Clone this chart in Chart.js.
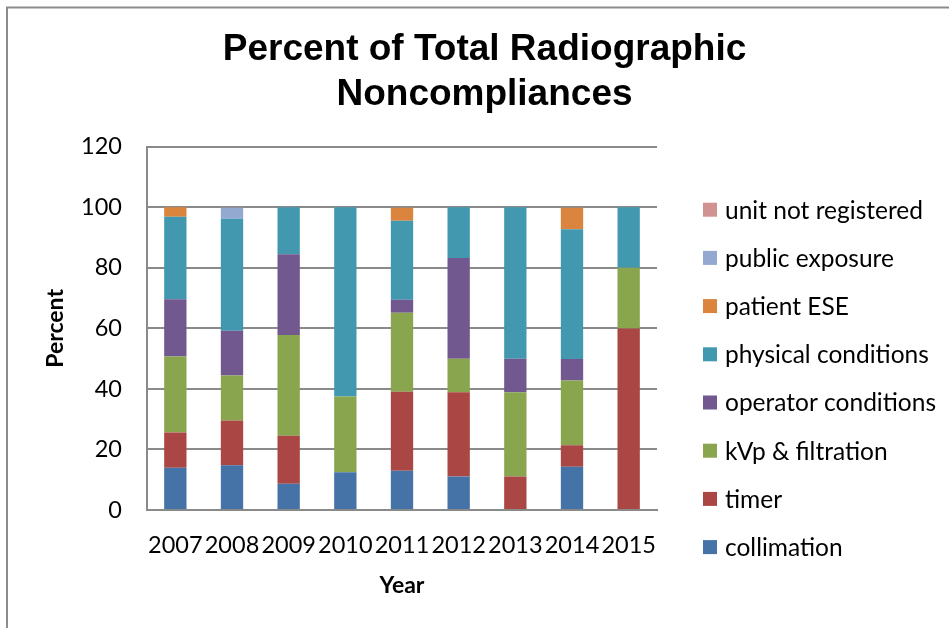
<!DOCTYPE html>
<html>
<head>
<meta charset="utf-8">
<script src="https://cdn.jsdelivr.net/npm/chart.js@4/dist/chart.umd.min.js"></script>
<style>
  html, body { margin: 0; padding: 0; background: #ffffff; }
  canvas { display: block; }
</style>
</head>
<body>
<canvas id="c" width="949" height="628"></canvas>
<script>
// ---- Data ----
const years = ['2007', '2008', '2009', '2010', '2011', '2012', '2013', '2014', '2015'];
const collimation       = [14.0, 14.8,  8.7, 12.5, 13.0, 11.1,  0.0, 14.3,  0.0];
const timer             = [11.6, 14.8, 15.8,  0.0, 26.1, 27.8, 11.1,  7.1, 60.0];
const kvpFiltration     = [25.1, 14.8, 33.3, 25.0, 26.1, 11.1, 27.8, 21.4, 20.0];
const operatorCond      = [18.9, 14.8, 26.7,  0.0,  4.3, 33.3, 11.1,  7.1,  0.0];
const physicalCond      = [27.3, 37.0, 15.5, 62.5, 26.1, 16.7, 50.0, 42.9, 20.0];
const patientESE        = [ 3.1,  0.0,  0.0,  0.0,  4.3,  0.0,  0.0,  7.1,  0.0];
const publicExposure    = [ 0.0,  3.7,  0.0,  0.0,  0.0,  0.0,  0.0,  0.0,  0.0];
const unitNotRegistered = [ 0.0,  0.0,  0.0,  0.0,  0.0,  0.0,  0.0,  0.0,  0.0];
const yTicks = [0, 20, 40, 60, 80, 100, 120];

const seriesNames = ['collimation', 'timer', 'kVp & filtration', 'operator conditions',
  'physical conditions', 'patient ESE', 'public exposure', 'unit not registered'];
const seriesValues = [collimation, timer, kvpFiltration, operatorCond,
  physicalCond, patientESE, publicExposure, unitNotRegistered];
const seriesColors = ['#4572A7', '#AA4643', '#89A54E', '#71588F',
  '#4198AF', '#DB843D', '#93A9CF', '#D19392'];

const GRID = '#8a8a8a';

// Frame (top and left edges of the original chart border)
const framePlugin = {
  id: 'frame',
  beforeDraw(chart) {
    const ctx = chart.ctx;
    ctx.save();
    ctx.fillStyle = '#ffffff';
    ctx.fillRect(0, 0, chart.width, chart.height);
    ctx.strokeStyle = '#8c8c8c';
    ctx.lineWidth = 2;
    ctx.beginPath();
    ctx.moveTo(7, chart.height);
    ctx.lineTo(7, 7.5);
    ctx.lineTo(chart.width, 7.5);
    ctx.stroke();
    ctx.restore();
  }
};

// Legend drawn on the right, reversed order like the reference
const legendPlugin = {
  id: 'sideLegend',
  afterDraw(chart) {
    const ctx = chart.ctx;
    const ds = chart.data.datasets;
    ctx.save();
    ctx.font = '24.5px Lato';
    ctx.textBaseline = 'middle';
    ctx.textAlign = 'left';
    let k = 0;
    for (let i = ds.length - 1; i >= 0; i--) {
      const y = 209.7 + k * 48.2;
      ctx.fillStyle = ds[i].backgroundColor;
      ctx.fillRect(703, y - 7, 14, 14);
      ctx.fillStyle = '#000000';
      ctx.fillText(ds[i].label, 725, y + 1);
      k++;
    }
    ctx.restore();
  }
};

new Chart(document.getElementById('c'), {
  type: 'bar',
  data: {
    labels: years,
    datasets: seriesNames.map((name, i) => ({
      label: name,
      data: seriesValues[i],
      backgroundColor: seriesColors[i],
      borderWidth: 0,
      categoryPercentage: 1.0,
      barPercentage: 0.394
    }))
  },
  options: {
    responsive: false,
    animation: false,
    devicePixelRatio: 1,
    font: { family: 'Lato' },
    layout: { padding: { left: 20, right: 0, top: 0, bottom: 15 } },
    plugins: {
      legend: { display: false },
      tooltip: { enabled: false },
      title: {
        display: true,
        text: ['Percent of Total Radiographic', 'Noncompliances'],
        color: '#000000',
        font: { family: 'Liberation Sans', size: 37, weight: 'bold', lineHeight: 1.2 },
        padding: { top: 28, bottom: 30 }
      }
    },
    scales: {
      x: {
        stacked: true,
        grid: { display: false, drawTicks: false },
        border: { display: true, color: GRID, width: 2 },
        ticks: {
          color: '#000000',
          font: { family: 'Lato', size: 23.5 },
          padding: 21,
          maxRotation: 0,
          autoSkip: false
        },
        title: {
          display: true,
          text: 'Year',
          color: '#000000',
          font: { family: 'Lato', size: 23, weight: 'bold', lineHeight: 1.2 },
          padding: { top: 0, bottom: 14 }
        },
        afterFit(s) { s.height = 103; }
      },
      y: {
        stacked: true,
        min: 0,
        max: 120,
        afterBuildTicks(s) { s.ticks = yTicks.map(v => ({ value: v })); },
        grid: { color: GRID, lineWidth: 2, drawTicks: false },
        border: { display: true, color: GRID, width: 2 },
        ticks: {
          color: '#000000',
          font: { family: 'Lato', size: 23.5 },
          padding: 25
        },
        title: {
          display: true,
          text: 'Percent',
          color: '#000000',
          font: { family: 'Lato', size: 23, weight: 'bold', lineHeight: 1.2 },
          padding: { top: 22, bottom: 0 }
        },
        afterFit(s) { s.width = 127; }
      },
      yRight: {
        type: 'linear',
        position: 'right',
        display: true,
        grid: { display: false, drawTicks: false },
        border: { display: false },
        ticks: { display: false },
        afterFit(s) { s.width = 292; }
      }
    }
  },
  plugins: [framePlugin, legendPlugin]
});
</script>
</body>
</html>
